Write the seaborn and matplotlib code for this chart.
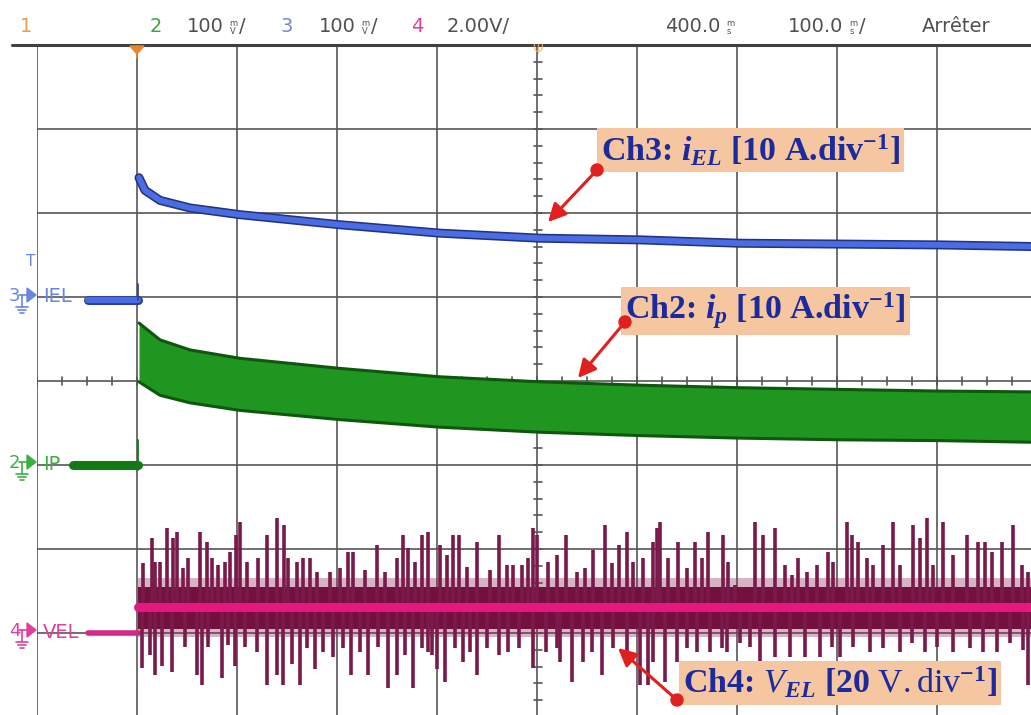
import matplotlib
matplotlib.use("Agg")
import matplotlib.pyplot as plt
import seaborn as sns
from matplotlib.patches import Polygon, Circle
import numpy as np

# time in ms from left edge of screen (100 ms/div), amplitudes in screen divisions
iel_pre_t = [51, 101]
iel_pre = [0.96, 0.96]
iel_t = [102, 108, 123, 153, 203, 303, 403, 503, 603, 703, 803, 903, 1000]
iel = [2.42, 2.27, 2.15, 2.06, 1.98, 1.86, 1.76, 1.70, 1.68, 1.64, 1.63, 1.62, 1.60]

ip_pre_t = [36, 101]
ip_pre = [-1.0, -1.0]
ip_t = [102, 123, 153, 203, 303, 403, 503, 603, 703, 803, 903, 1000]
ip_hi = [0.69, 0.49, 0.37, 0.27, 0.15, 0.05, -0.01, -0.05, -0.08, -0.10, -0.12, -0.13]
ip_lo = [-0.01, -0.17, -0.26, -0.35, -0.46, -0.55, -0.61, -0.65, -0.68, -0.70, -0.71, -0.73]

vel_pre_t = [51, 101]
vel_pre = [-3.0, -3.0]
vel_level_t = [101, 1000]
vel_level = [-2.69, -2.69]

vel_up_t = [106, 115, 118, 123, 130, 136, 140, 146, 151, 163, 170, 175, 181, 188, 193, 199, 203,
            210, 221, 230, 240, 247, 251, 260, 266, 273, 280, 293, 303, 311, 316, 328, 340, 348,
            360, 366, 371, 378, 385, 391, 403, 410, 416, 422, 430, 440, 453, 462, 470, 476, 485,
            491, 496, 500, 511, 520, 529, 540, 548, 556, 568, 575, 582, 590, 596, 606, 616, 620,
            623, 631, 641, 650, 658, 665, 671, 686, 691, 698, 718, 726, 738, 748, 755, 761, 770,
            780, 791, 796, 810, 815, 821, 830, 836, 846, 856, 863, 876, 883, 890, 896, 906, 916,
            930, 941, 948, 955, 965, 976, 985, 991]
vel_up = [-2.17, -1.87, -2.15, -2.15, -1.75, -1.87, -1.80, -2.23, -2.11, -1.80, -1.92, -2.11, -2.19,
          -2.15, -2.04, -1.83, -1.68, -2.15, -2.11, -1.83, -1.63, -1.71, -2.11, -2.15, -2.11, -2.11,
          -2.27, -2.27, -2.23, -2.04, -2.04, -2.25, -1.95, -2.27, -2.11, -1.83, -1.99, -2.15, -1.83,
          -1.80, -1.95, -2.07, -1.83, -1.83, -2.21, -1.92, -2.25, -1.83, -2.19, -2.19, -2.19, -2.11,
          -1.75, -1.83, -2.15, -2.07, -1.83, -2.27, -2.23, -2.01, -1.71, -2.17, -1.95, -1.80, -2.15,
          -2.11, -1.92, -1.75, -1.68, -2.11, -1.92, -2.23, -1.92, -2.11, -1.80, -1.83, -2.15, -2.43,
          -1.68, -1.83, -1.75, -2.19, -2.31, -2.11, -2.27, -2.19, -2.04, -2.15, -1.68, -1.83, -1.92,
          -2.11, -2.19, -1.95, -1.68, -2.19, -1.71, -1.87, -1.63, -2.19, -1.68, -2.07, -1.83, -1.92,
          -1.92, -2.04, -1.92, -1.71, -2.19, -2.27]

vel_dn_t = [105, 113, 118, 125, 135, 148, 160, 165, 171, 185, 191, 198, 208, 220, 230, 240, 246,
            255, 263, 270, 278, 286, 296, 306, 314, 323, 331, 341, 351, 360, 368, 376, 385, 391,
            395, 400, 408, 418, 426, 433, 440, 450, 462, 471, 482, 496, 509, 520, 523, 535, 546,
            555, 565, 576, 590, 603, 611, 616, 628, 640, 650, 660, 673, 685, 690, 703, 713, 723,
            738, 753, 768, 783, 795, 803, 816, 833, 846, 863, 875, 888, 900, 916, 933, 946, 960,
            973, 986, 991]
vel_dn = [-3.42, -3.26, -3.50, -3.39, -3.46, -3.17, -3.50, -3.62, -3.17, -3.54, -3.14, -3.39, -3.17,
          -3.23, -3.62, -3.50, -3.62, -3.37, -3.62, -3.18, -3.43, -3.23, -3.29, -3.18, -3.50, -3.23,
          -3.50, -3.17, -3.65, -3.50, -3.26, -3.65, -3.18, -3.23, -3.26, -3.43, -3.58, -3.18, -3.35,
          -3.23, -3.50, -3.18, -3.26, -3.23, -3.18, -3.42, -3.23, -3.18, -3.35, -3.58, -3.35, -3.23,
          -3.50, -3.18, -3.24, -3.62, -3.62, -3.35, -3.58, -3.35, -3.18, -3.23, -3.23, -3.18, -3.23,
          -3.12, -3.17, -3.35, -3.29, -3.29, -3.29, -3.29, -3.17, -3.29, -3.17, -3.23, -3.18, -3.23,
          -3.12, -3.23, -3.17, -3.23, -3.18, -3.23, -3.23, -3.12, -3.20, -3.62]

header_grey = "#505050"
blue = "#4a6de4"
green = "#1f961f"
pink = "#e6177f"

sns.set_theme(style="white")
plt.rcParams["font.family"] = ["DejaVu Sans"]
plt.rcParams["mathtext.fontset"] = "custom"
plt.rcParams["mathtext.rm"] = "Liberation Serif:bold"
plt.rcParams["mathtext.it"] = "Liberation Serif:italic:bold"
plt.rcParams["mathtext.bf"] = "Liberation Serif:bold"
plt.rcParams["mathtext.sf"] = "Liberation Serif"
plt.rcParams["mathtext.cal"] = "Liberation Serif:italic"

fig = plt.figure(figsize=(10.31, 7.15), dpi=100)
fig.patch.set_facecolor("white")

# graticule area: 10 x 8 divisions
ax = fig.add_axes([37 / 1031, 1 - 717 / 715, 1000 / 1031, 672 / 715])
ax.set_xlim(0, 1000)
ax.set_ylim(-4, 4)
ax.set_xticks([])
ax.set_yticks([])
for s in ax.spines.values():
    s.set_visible(False)

grid_c = "#565656"
for gx in range(0, 1001, 100):
    ax.axvline(gx, color=grid_c, lw=1.2, zorder=1)
for gy in range(-4, 5):
    ax.axhline(gy, color=grid_c, lw=1.2, zorder=1)
ax.plot([-25, 1000], [4, 4], color="#404040", lw=2.2, clip_on=False, zorder=1)
# minor ticks on centre axes
for tx in np.arange(0, 1000, 25):
    ax.plot([tx, tx], [-0.045, 0.045], color=grid_c, lw=1.2, zorder=1)
for ty in np.arange(-4, 4, 0.2):
    ax.plot([497, 505], [ty, ty], color=grid_c, lw=1.2, zorder=1)

# Ch3 iEL
sns.lineplot(x=iel_pre_t, y=iel_pre, ax=ax, color="#2b3c95", lw=6.5, zorder=3)
sns.lineplot(x=iel_pre_t, y=iel_pre, ax=ax, color=blue, lw=4.5, zorder=3)
ax.plot([101, 101], [0.96, 1.16], color="#2b3c95", lw=1.2, zorder=3)
sns.lineplot(x=iel_t, y=iel, ax=ax, color="#24337f", lw=6.5, zorder=3)
sns.lineplot(x=iel_t, y=iel, ax=ax, color=blue, lw=4.2, zorder=3)

# Ch2 ip
sns.lineplot(x=ip_pre_t, y=ip_pre, ax=ax, color="#137a13", lw=6.5, zorder=3)
ax.plot([101, 101], [-1.06, -0.70], color="#137a13", lw=1.3, zorder=3)
ax.fill_between(ip_t, ip_lo, ip_hi, color=green, lw=0, zorder=3)
sns.lineplot(x=ip_t, y=ip_hi, ax=ax, color="#0f560f", lw=2.2, zorder=3)
sns.lineplot(x=ip_t, y=ip_lo, ax=ax, color="#0f560f", lw=2.2, zorder=3)

# Ch4 VEL
sns.lineplot(x=vel_pre_t, y=vel_pre, ax=ax, color="#d42a85", lw=4, zorder=3)
ax.fill_between(vel_level_t, -3.05, -2.35, color="#8c2a5c", alpha=0.35, lw=0, zorder=3)
ax.fill_between(vel_level_t, -2.95, -2.45, color="#74103f", lw=0, zorder=3)
ax.vlines(vel_up_t, vel_level[0], vel_up, color="#7a1a4a", lw=2.6, zorder=3)
ax.vlines(vel_dn_t, vel_level[0], vel_dn, color="#7a1a4a", lw=2.6, zorder=3)
sns.lineplot(x=vel_level_t, y=vel_level, ax=ax, color=pink, lw=6.5, zorder=4)

# overlay in pixel coordinates for screen texts and annotations
ov = fig.add_axes([0, 0, 1, 1], zorder=5)
ov.set_xlim(0, 1031)
ov.set_ylim(715, 0)
ov.axis("off")
ov.patch.set_alpha(0)

hy = 27
hs = 14


def stacked(x, top, bottom, slash=False):
    ov.text(x, hy - 4, top, color=header_grey, fontsize=6, ha="left", va="center")
    ov.text(x + 1, hy + 5, bottom, color=header_grey, fontsize=6, ha="left", va="center")
    if slash:
        ov.text(x + 10, hy, "/", color=header_grey, fontsize=hs, ha="left", va="center")


ov.text(20, hy, "1", color="#e9a04a", fontsize=hs, va="center")
ov.text(150, hy, "2", color="#3aa83a", fontsize=hs, va="center")
ov.text(187, hy, "100", color=header_grey, fontsize=hs, va="center")
stacked(229, "m", "V", slash=True)
ov.text(281, hy, "3", color="#7d84d6", fontsize=hs, va="center")
ov.text(319, hy, "100", color=header_grey, fontsize=hs, va="center")
stacked(361, "m", "V", slash=True)
ov.text(411, hy, "4", color="#e0409a", fontsize=hs, va="center")
ov.text(447, hy, "2.00V/", color=header_grey, fontsize=hs, va="center")
ov.text(665, hy, "400.0", color=header_grey, fontsize=hs, va="center")
stacked(726, "m", "s")
ov.text(788, hy, "100.0", color=header_grey, fontsize=hs, va="center")
stacked(849, "m", "s", slash=True)
ov.text(922, hy, "Arrêter", color=header_grey, fontsize=hs, va="center")

# trigger markers
ov.add_patch(Polygon([[130, 46], [144, 46], [137, 54]], closed=True, color="#e8872a", zorder=6))
ov.plot([137, 137], [46, 58], color="#e8872a", lw=1.2)
ov.text(538, 50, "Ψ", color="#f0b070", fontsize=10, ha="center", va="center", alpha=0.8)


def chan_marker(y, num, color, label):
    ov.text(9, y - 3, num, color=color, fontsize=13, va="center")
    ov.add_patch(Polygon([[27, y - 11], [36, y - 4], [27, y + 3]], closed=True, color=color))
    ov.plot([19, 27], [y - 4, y - 4], color=color, lw=1.2)
    ov.plot([22, 22], [y - 4, y + 8], color=color, lw=1.2)
    ov.plot([16, 28], [y + 8, y + 8], color=color, lw=1.2)
    ov.plot([18, 26], [y + 11, y + 11], color=color, lw=1.2)
    ov.plot([20, 24], [y + 14, y + 14], color=color, lw=1.2)
    ov.text(43, y - 2, label, color=color, fontsize=14, va="center")


chan_marker(299, "3", "#6a86e2", "IEL")
ov.text(31, 262, "T", color="#6a86e2", fontsize=11, ha="center", va="center")
chan_marker(466, "2", "#3cb043", "IP")
chan_marker(634, "4", "#e0409a", "VEL")

# annotations
box = dict(boxstyle="square,pad=0.12", fc="#f5c6a0", ec="none")
txt_c = "#1c2b9c"
fs = 24.5
ov.text(601, 150, r"Ch3: $i_{EL}$ [10 A.div$^{-1}$]", color=txt_c, fontsize=fs,
        family="Liberation Serif", weight="bold", va="center", ha="left", bbox=box, zorder=7)
ov.text(625, 311, r"Ch2: $i_{p}$ [10 A.div$^{-1}$]", color=txt_c, fontsize=fs,
        family="Liberation Serif", weight="bold", va="center", ha="left", bbox=box, zorder=7)
ov.text(683, 683, r"Ch4: $\mathcal{V}_{EL}$ [20 $\mathsf{V.div}^{-1}$]", color=txt_c, fontsize=fs,
        family="Liberation Serif", weight="bold", va="center", ha="left", bbox=box, zorder=7)

red = "#e21f1f"
for (sx, sy), (tx, ty) in [((597, 170), (548, 222)), ((625, 322), (578, 378)), ((677, 700), (618, 648))]:
    ov.annotate("", xy=(tx, ty), xytext=(sx, sy),
                arrowprops=dict(arrowstyle="-|>,head_length=0.9,head_width=0.45", color=red, lw=2.2,
                                shrinkA=0, shrinkB=0), zorder=8)
    ov.add_patch(Circle((sx, sy), 6, color=red, zorder=9))

fig.savefig("out.png", dpi=100, facecolor="white")
